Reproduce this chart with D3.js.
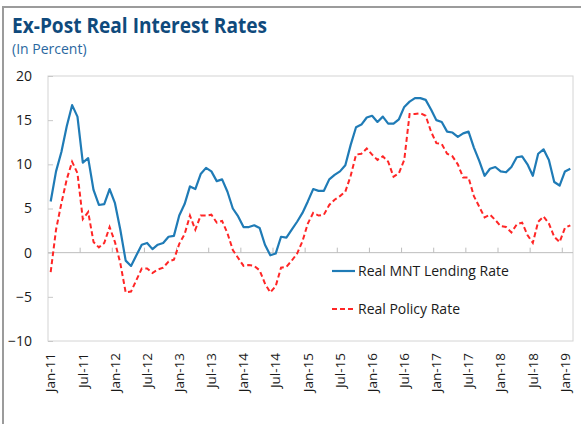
<!DOCTYPE html>
<html>
<head>
<meta charset="utf-8">
<script src="https://cdn.jsdelivr.net/npm/d3@7"></script>
<style>
  body { margin: 0; background: #fff; }
  svg { display: block; font-family: "Open Sans", sans-serif; }
</style>
</head>
<body>
<svg></svg>
<script>
// monthly observations, Jan-11 .. Feb-19
let months = d3.timeMonth.range(new Date(2011, 0, 1), new Date(2019, 2, 1))

let lendingRate = [
  5.8, 9.2, 11.4, 14.3, 16.7, 15.4, 10.2, 10.7, 7.1, 5.4, 5.5, 7.2,
  5.6, 2.6, -0.9, -1.5, -0.3, 0.9, 1.1, 0.4, 0.9, 1.1, 1.8, 1.9,
  4.2, 5.5, 7.5, 7.2, 8.9, 9.6, 9.2, 8.1, 8.3, 6.9, 5.0, 4.1,
  2.9, 2.9, 3.1, 2.8, 0.9, -0.3, -0.1, 1.8, 1.7, 2.6, 3.5, 4.5,
  5.8, 7.2, 7.0, 7.0, 8.3, 8.8, 9.2, 9.9, 12.2, 14.2, 14.5, 15.3,
  15.5, 14.8, 15.4, 14.6, 14.6, 15.1, 16.5, 17.1, 17.5, 17.5, 17.3, 16.2,
  15.0, 14.8, 13.7, 13.6, 13.1, 13.5, 13.7, 11.9, 10.4, 8.7, 9.5, 9.7,
  9.2, 9.1, 9.7, 10.8, 10.9, 10.0, 8.7, 11.2, 11.7, 10.5, 8.0, 7.6,
  9.2, 9.5
]

let policyRate = [
  -2.2, 2.6, 5.6, 8.3, 10.3, 9.0, 3.8, 4.6, 1.2, 0.6, 1.1, 2.9,
  1.2, -1.2, -4.5, -4.4, -3.1, -1.8, -1.8, -2.3, -1.9, -1.7, -1.0, -0.8,
  1.0, 2.1, 4.2, 2.6, 4.2, 4.2, 4.3, 3.4, 3.6, 2.2, 0.3, -0.6,
  -1.5, -1.4, -1.5, -2.0, -3.5, -4.5, -3.8, -1.7, -1.6, -0.9, -0.1, 1.3,
  3.3, 4.5, 4.2, 4.3, 5.4, 6.0, 6.4, 6.9, 8.7, 11.1, 11.2, 11.8,
  11.1, 10.5, 10.9, 10.3, 8.6, 9.0, 10.5, 15.7, 15.7, 15.8, 15.5, 13.7,
  12.4, 12.3, 11.2, 10.9, 10.0, 8.5, 8.5, 6.4, 5.2, 4.0, 4.3, 3.7,
  3.0, 2.9, 2.3, 3.2, 3.4, 2.0, 1.1, 3.5, 4.1, 3.3, 1.8, 1.2,
  2.8, 3.1
]

let yTicks = [-10, -5, 0, 5, 10, 15, 20]
let seriesNames = ['Real MNT Lending Rate', 'Real Policy Rate']

let width = 581
let height = 424
let plot = { left: 48, right: 573, top: 76, bottom: 341 }

let blue = '#1f7bb6'
let red = '#ff2626'

let fmt = d3.timeFormat('%b-%y')

let svg = d3.select('svg')
  .attr('width', width)
  .attr('height', height)

// outer frame (top and left edge only visible)
svg.append('path')
  .attr('d', `M3,${height} V7 H${width}`)
  .attr('fill', 'none')
  .attr('stroke', '#9b9b9b')
  .attr('stroke-width', 2)

svg.append('text')
  .attr('x', 12)
  .attr('y', 33)
  .attr('font-size', 20.5)
  .attr('font-weight', 'bold')
  .attr('fill', '#0f4a7c')
  .attr('textLength', 255)
  .attr('lengthAdjust', 'spacingAndGlyphs')
  .text('Ex-Post Real Interest Rates')

svg.append('text')
  .attr('x', 12)
  .attr('y', 54)
  .attr('font-size', 14)
  .attr('fill', '#2a67a0')
  .text('(In Percent)')

let xScale = d3.scaleBand()
  .domain(months)
  .range([plot.left, plot.right])
  .padding(0)

let yScale = d3.scaleLinear()
  .domain([-10, 20])
  .range([plot.bottom, plot.top])

// plot area border
svg.append('rect')
  .attr('x', plot.left)
  .attr('y', plot.top)
  .attr('width', plot.right - plot.left)
  .attr('height', plot.bottom - plot.top)
  .attr('fill', 'none')
  .attr('stroke', '#d4d4d4')

// y axis: inside ticks, labels on the left
let yAxis = d3.axisLeft(yScale)
  .tickValues(yTicks)
  .tickSizeInner(-5)
  .tickSizeOuter(0)
  .tickPadding(16)
  .tickFormat(d3.format('d'))

let gy = svg.append('g')
  .attr('transform', `translate(${plot.left}, 0)`)
  .call(yAxis)
gy.select('.domain').remove()
gy.selectAll('line').attr('stroke', '#c8c8c8')
gy.selectAll('text')
  .attr('font-size', 14)
  .attr('font-family', '"Open Sans", sans-serif')
  .attr('fill', '#1a1a1a')

// horizontal axis line at zero with upward ticks between categories
let zeroY = yScale(0)
svg.append('line')
  .attr('x1', plot.left)
  .attr('x2', plot.right)
  .attr('y1', zeroY)
  .attr('y2', zeroY)
  .attr('stroke', '#bdbdbd')

let boundaryMonths = months.filter((m, i) => i % 6 === 0 && i > 0)
svg.selectAll('.xtick')
  .data(boundaryMonths)
  .enter()
  .append('line')
  .attr('class', 'xtick')
  .attr('x1', d => xScale(d))
  .attr('x2', d => xScale(d))
  .attr('y1', zeroY - 5)
  .attr('y2', zeroY)
  .attr('stroke', '#bdbdbd')

// category labels along the bottom
let labelMonths = months.filter((m, i) => i % 6 === 0)
let xAxis = d3.axisBottom(xScale)
  .tickValues(labelMonths)
  .tickSize(0)
  .tickFormat(fmt)

let gx = svg.append('g')
  .attr('transform', `translate(0, ${plot.bottom})`)
  .call(xAxis)
gx.select('.domain').remove()
gx.selectAll('text')
  .attr('font-size', 13.5)
  .attr('font-family', '"Open Sans", sans-serif')
  .attr('fill', '#1a1a1a')
  .attr('transform', 'rotate(-90)')
  .attr('text-anchor', 'end')
  .attr('x', -12)
  .attr('y', 0)
  .attr('dy', '0.35em')

let line = d3.line()
  .x((d, i) => xScale(months[i]) + xScale.bandwidth() / 2)
  .y(d => yScale(d))

svg.append('path')
  .datum(lendingRate)
  .attr('fill', 'none')
  .attr('stroke', blue)
  .attr('stroke-width', 2.2)
  .attr('stroke-linejoin', 'round')
  .attr('d', line)

svg.append('path')
  .datum(policyRate)
  .attr('fill', 'none')
  .attr('stroke', red)
  .attr('stroke-width', 2)
  .attr('stroke-dasharray', '5,3')
  .attr('d', line)

// legend
let legend = svg.append('g')
let legendY = [271, 309]
let legendStyle = [
  { color: blue, dash: null, w: 2.2 },
  { color: red, dash: '5,3', w: 2 }
]
seriesNames.forEach((name, i) => {
  legend.append('line')
    .attr('x1', 332)
    .attr('x2', 355)
    .attr('y1', legendY[i])
    .attr('y2', legendY[i])
    .attr('stroke', legendStyle[i].color)
    .attr('stroke-width', legendStyle[i].w)
    .attr('stroke-dasharray', legendStyle[i].dash)
  legend.append('text')
    .attr('x', 358)
    .attr('y', legendY[i])
    .attr('dy', '0.35em')
    .attr('font-size', 14)
    .attr('fill', '#1a1a1a')
    .text(name)
})
</script>
</body>
</html>
